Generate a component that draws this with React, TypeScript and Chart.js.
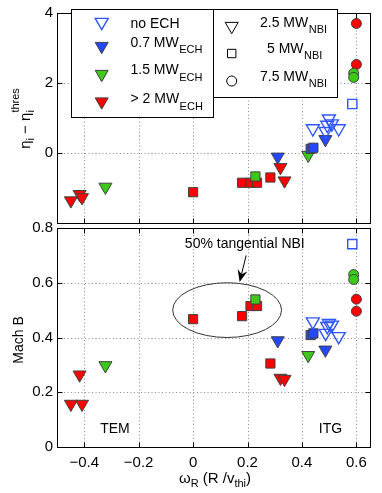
import React, { useEffect, useRef } from 'react';
import { Chart, registerables } from 'chart.js';

Chart.register(...registerables);

// ---------- data ----------
const xTickValues = [-0.4, -0.2, 0, 0.2, 0.4, 0.6];
const etaTickValues = [0, 2, 4];
const machTickValues = [0, 0.2, 0.4, 0.6, 0.8];

// no ECH, 2.5 MW NBI (open triangles)
const noEch25Omega = [0.44, 0.487, 0.493, 0.499, 0.51, 0.535];
const noEch25Eta = [0.7, 0.62, 0.8, 0.98, 0.84, 0.7];
const noEch25Mach = [0.458, 0.416, 0.441, 0.452, 0.446, 0.404];
// no ECH, 5 MW NBI (open square)
const noEch5Omega = [0.585];
const noEch5Eta = [1.4];
const noEch5Mach = [0.741];
// 0.7 MW ECH, 2.5 MW NBI
const ech07n25Omega = [0.311, 0.486];
const ech07n25Eta = [-0.11, 0.39];
const ech07n25Mach = [0.389, 0.355];
// 0.7 MW ECH, 5 MW NBI
const ech07n5Omega = [0.432, 0.442];
const ech07n5Eta = [0.12, 0.15];
const ech07n5Mach = [0.409, 0.415];
// 1.5 MW ECH, 2.5 MW NBI
const ech15n25Omega = [-0.322, 0.423];
const ech15n25Eta = [-0.97, -0.06];
const ech15n25Mach = [0.298, 0.335];
// 1.5 MW ECH, 5 MW NBI
const ech15n5Omega = [0.229];
const ech15n5Eta = [-0.67];
const ech15n5Mach = [0.539];
// 1.5 MW ECH, 7.5 MW NBI
const ech15n75Omega = [0.59, 0.59];
const ech15n75Eta = [2.28, 2.16];
const ech15n75Mach = [0.63, 0.612];
// >2 MW ECH, 2.5 MW NBI
const ech2n25Omega = [-0.449, -0.417, -0.408, 0.321, 0.336];
const ech2n25Eta = [-1.36, -1.18, -1.27, -0.41, -0.79];
const ech2n25Mach = [0.157, 0.264, 0.157, 0.252, 0.248];
// >2 MW ECH, 5 MW NBI
const ech2n5Omega = [0, 0.18, 0.211, 0.235, 0.284];
const ech2n5Eta = [-1.12, -0.85, -0.85, -0.85, -0.7];
const ech2n5Mach = [0.467, 0.478, 0.515, 0.515, 0.305];
// >2 MW ECH, 7.5 MW NBI
const ech2n75Omega = [0.6, 0.6];
const ech2n75Eta = [3.7, 2.53];
const ech2n75Mach = [0.54, 0.496];

const echLegendLabels = [
  { main: 'no ECH', sub: '' },
  { main: '0.7 MW', sub: 'ECH' },
  { main: '1.5 MW', sub: 'ECH' },
  { main: '> 2 MW', sub: 'ECH' },
];
const nbiLegendLabels = [
  { main: '2.5 MW', sub: 'NBI' },
  { main: '5 MW', sub: 'NBI' },
  { main: '7.5 MW', sub: 'NBI' },
];

// ---------- styles ----------
const FONT = '"Liberation Sans", Arial, Helvetica, sans-serif';
const BLUE = '#2448ff';
const OPEN_BLUE = '#2f55ff';
const GREEN = '#3ec81a';
const RED = '#ff0000';
const EDGE = '#404040';
const NONE = 'rgba(0,0,0,0)';

type Shape = 'tri' | 'sq' | 'circ';
type Ser = { omega: number[]; eta: number[]; mach: number[]; shape: Shape; face: string; edge: string };

const seriesList: Ser[] = [
  { omega: noEch25Omega, eta: noEch25Eta, mach: noEch25Mach, shape: 'tri', face: NONE, edge: OPEN_BLUE },
  { omega: noEch5Omega, eta: noEch5Eta, mach: noEch5Mach, shape: 'sq', face: NONE, edge: OPEN_BLUE },
  { omega: ech07n25Omega, eta: ech07n25Eta, mach: ech07n25Mach, shape: 'tri', face: BLUE, edge: EDGE },
  { omega: ech07n5Omega, eta: ech07n5Eta, mach: ech07n5Mach, shape: 'sq', face: BLUE, edge: EDGE },
  { omega: ech15n25Omega, eta: ech15n25Eta, mach: ech15n25Mach, shape: 'tri', face: GREEN, edge: EDGE },
  { omega: ech15n5Omega, eta: ech15n5Eta, mach: ech15n5Mach, shape: 'sq', face: GREEN, edge: EDGE },
  { omega: ech15n75Omega, eta: ech15n75Eta, mach: ech15n75Mach, shape: 'circ', face: GREEN, edge: EDGE },
  { omega: ech2n25Omega, eta: ech2n25Eta, mach: ech2n25Mach, shape: 'tri', face: RED, edge: EDGE },
  { omega: ech2n5Omega, eta: ech2n5Eta, mach: ech2n5Mach, shape: 'sq', face: RED, edge: EDGE },
  { omega: ech2n75Omega, eta: ech2n75Eta, mach: ech2n75Mach, shape: 'circ', face: RED, edge: EDGE },
];

function toDatasets(key: 'eta' | 'mach') {
  return seriesList.map((s) => ({
    data: s.omega.map((x, i) => ({ x, y: s[key][i] })),
    pointStyle: s.shape === 'tri' ? 'triangle' : s.shape === 'sq' ? 'rect' : 'circle',
    pointRotation: s.shape === 'tri' ? 180 : 0,
    pointRadius: s.shape === 'tri' ? 7.5 : s.shape === 'sq' ? 6.5 : 5,
    pointBackgroundColor: s.face,
    pointBorderColor: s.edge,
    pointBorderWidth: s.face === NONE ? 1.4 : 1,
    showLine: false,
  }));
}

const fmt = (v: number) => {
  const s = String(Number(v.toFixed(2)));
  return v < 0 ? '\u2212' + s.slice(1) : s;
};

// ---------- drawing helpers ----------
type Seg = { t: string; size: number; dy: number };

function drawRich(ctx: CanvasRenderingContext2D, segs: Seg[][], cx: number, base: number) {
  const widths = segs.map((g) =>
    Math.max(
      ...g.map((s) => {
        ctx.font = `${s.size}px ${FONT}`;
        return ctx.measureText(s.t).width;
      })
    )
  );
  const total = widths.reduce((a, b) => a + b, 0);
  let x = cx - total / 2;
  ctx.textAlign = 'left';
  ctx.textBaseline = 'alphabetic';
  segs.forEach((g, i) => {
    g.forEach((s) => {
      ctx.font = `${s.size}px ${FONT}`;
      ctx.fillText(s.t, x, base + s.dy);
    });
    x += widths[i];
  });
}

function triPath(ctx: CanvasRenderingContext2D, cx: number, cyBox: number, r: number) {
  const cy = cyBox - r / 4;
  ctx.beginPath();
  ctx.moveTo(cx - r * 0.866, cy - r / 2);
  ctx.lineTo(cx + r * 0.866, cy - r / 2);
  ctx.lineTo(cx, cy + r);
  ctx.closePath();
}

function legendMarker(ctx: CanvasRenderingContext2D, shape: Shape, cx: number, cy: number, face: string, edge: string, lw: number) {
  ctx.save();
  ctx.lineWidth = lw;
  ctx.strokeStyle = edge;
  ctx.fillStyle = face;
  if (shape === 'tri') triPath(ctx, cx, cy, 7.5);
  else if (shape === 'sq') {
    ctx.beginPath();
    ctx.rect(cx - 4.2, cy - 4.2, 8.4, 8.4);
  } else {
    ctx.beginPath();
    ctx.arc(cx, cy, 5, 0, Math.PI * 2);
  }
  if (face !== NONE) ctx.fill();
  ctx.stroke();
  ctx.restore();
}

const framePlugin = {
  id: 'frame',
  beforeDatasetsDraw(chart: any) {
    const { ctx, chartArea: a, scales } = chart;
    ctx.save();
    ctx.strokeStyle = '#8c8c8c';
    ctx.lineWidth = 1;
    ctx.setLineDash([1, 2.5]);
    ctx.beginPath();
    scales.x.ticks.forEach((t: any) => {
      const px = Math.round(scales.x.getPixelForValue(t.value)) + 0.5;
      if (px <= a.left + 1 || px >= a.right - 1) return;
      ctx.moveTo(px, a.top);
      ctx.lineTo(px, a.bottom);
    });
    scales.y.ticks.forEach((t: any) => {
      const py = Math.round(scales.y.getPixelForValue(t.value)) + 0.5;
      if (py <= a.top + 1 || py >= a.bottom - 1) return;
      ctx.moveTo(a.left, py);
      ctx.lineTo(a.right, py);
    });
    ctx.stroke();
    ctx.restore();
  },
  afterDraw(chart: any) {
    const { ctx, chartArea: a, scales } = chart;
    ctx.save();
    ctx.strokeStyle = '#000';
    ctx.lineWidth = 1;
    const L = Math.round(a.left) + 0.5;
    const R = Math.round(a.right) + 0.5;
    const T = Math.round(a.top) + 0.5;
    const B = Math.round(a.bottom) + 0.5;
    ctx.strokeRect(L, T, R - L, B - T);
    ctx.beginPath();
    scales.x.ticks.forEach((t: any) => {
      const px = Math.round(scales.x.getPixelForValue(t.value)) + 0.5;
      ctx.moveTo(px, B);
      ctx.lineTo(px, B - 5);
      ctx.moveTo(px, T);
      ctx.lineTo(px, T + 5);
    });
    scales.y.ticks.forEach((t: any) => {
      const py = Math.round(scales.y.getPixelForValue(t.value)) + 0.5;
      ctx.moveTo(L, py);
      ctx.lineTo(L + 5, py);
      ctx.moveTo(R, py);
      ctx.lineTo(R - 5, py);
    });
    ctx.stroke();
    ctx.restore();
  },
};

const topDecorPlugin = {
  id: 'topDecor',
  afterDraw(chart: any) {
    const ctx: CanvasRenderingContext2D = chart.ctx;
    ctx.save();
    ctx.fillStyle = '#000';
    ctx.translate(30, 118.5);
    ctx.rotate(-Math.PI / 2);
    drawRich(
      ctx,
      [
        [{ t: '\u03b7', size: 15, dy: 0 }],
        [{ t: 'i', size: 11, dy: 4 }],
        [{ t: ' \u2212 ', size: 15, dy: 0 }],
        [{ t: '\u03b7', size: 15, dy: 0 }],
        [
          { t: 'i', size: 11, dy: 4 },
          { t: 'thres', size: 11, dy: -11 },
        ],
      ],
      0,
      0
    );
    ctx.restore();

    ctx.save();
    ctx.fillStyle = '#fff';
    ctx.strokeStyle = '#000';
    ctx.lineWidth = 1;
    ctx.fillRect(71.5, 9.5, 142, 108);
    ctx.strokeRect(71.5, 9.5, 142, 108);
    ctx.fillRect(213.5, 9.5, 124, 88);
    ctx.strokeRect(213.5, 9.5, 124, 88);
    const echFaces = [NONE, BLUE, GREEN, RED];
    const echEdges = [OPEN_BLUE, EDGE, EDGE, EDGE];
    const echMarkY = [24, 48, 76, 103.5];
    const echBase = [28.3, 46.7, 74.3, 103.3];
    echLegendLabels.forEach((lab, i) => {
      legendMarker(ctx, 'tri', 101.7, echMarkY[i], echFaces[i], echEdges[i], echFaces[i] === NONE ? 1.4 : 1);
      ctx.fillStyle = '#000';
      ctx.textAlign = 'left';
      ctx.textBaseline = 'alphabetic';
      ctx.font = `14px ${FONT}`;
      ctx.fillText(lab.main, 130.5, echBase[i]);
      if (lab.sub) {
        const w = ctx.measureText(lab.main).width;
        ctx.font = `11px ${FONT}`;
        ctx.fillText(lab.sub, 130.5 + w + 0.5, echBase[i] + 6.5);
      }
    });
    const nbiShapes: Shape[] = ['tri', 'sq', 'circ'];
    const nbiMarkY = [28, 53.5, 81];
    const nbiBase = [26.7, 53, 81];
    const nbiX = [260, 267, 260];
    nbiLegendLabels.forEach((lab, i) => {
      legendMarker(ctx, nbiShapes[i], 231.7, nbiMarkY[i], NONE, '#000', 1);
      ctx.fillStyle = '#000';
      ctx.font = `14px ${FONT}`;
      ctx.fillText(lab.main, nbiX[i], nbiBase[i]);
      const w = ctx.measureText(lab.main).width;
      ctx.font = `11px ${FONT}`;
      ctx.fillText(lab.sub, nbiX[i] + w + 0.5, nbiBase[i] + 5.8);
    });
    ctx.restore();
  },
};

const bottomDecorPlugin = {
  id: 'bottomDecor',
  afterDraw(chart: any) {
    const ctx: CanvasRenderingContext2D = chart.ctx;
    const xs = chart.scales.x;
    const ys = chart.scales.y;
    const X = (v: number) => xs.getPixelForValue(v);
    const Y = (v: number) => ys.getPixelForValue(v);
    ctx.save();
    ctx.fillStyle = '#000';
    ctx.strokeStyle = '#333';
    ctx.lineWidth = 1;
    const cx = X(0.125);
    const cy = Y(0.5);
    ctx.beginPath();
    ctx.ellipse(cx, cy, Math.abs(X(0.325) - cx), Math.abs(Y(0.6) - cy), 0, 0, Math.PI * 2);
    ctx.stroke();
    const tx = X(0.195), ty = Y(0.7);
    const hx = X(0.171), hy = Y(0.603);
    const ang = Math.atan2(hy - ty, hx - tx);
    ctx.strokeStyle = '#000';
    ctx.beginPath();
    ctx.moveTo(tx, ty);
    ctx.lineTo(hx - Math.cos(ang) * 8, hy - Math.sin(ang) * 8);
    ctx.stroke();
    ctx.beginPath();
    ctx.moveTo(hx, hy);
    ctx.lineTo(hx - Math.cos(ang) * 12 + Math.sin(ang) * 5, hy - Math.sin(ang) * 12 - Math.cos(ang) * 5);
    ctx.lineTo(hx - Math.cos(ang) * 8, hy - Math.sin(ang) * 8);
    ctx.lineTo(hx - Math.cos(ang) * 12 - Math.sin(ang) * 5, hy - Math.sin(ang) * 12 + Math.cos(ang) * 5);
    ctx.closePath();
    ctx.fill();
    ctx.font = `14px ${FONT}`;
    ctx.textAlign = 'center';
    ctx.textBaseline = 'middle';
    ctx.fillText('50% tangential NBI', X(0.19), Y(0.742));
    ctx.fillText('TEM', X(-0.287), Y(0.066));
    ctx.fillText('ITG', X(0.505), Y(0.066));
    drawRich(
      ctx,
      [
        [{ t: '\u03c9', size: 15, dy: 0 }],
        [{ t: 'R', size: 11, dy: 4 }],
        [{ t: ' (R /v', size: 15, dy: 0 }],
        [{ t: 'thi', size: 11, dy: 4 }],
        [{ t: ')', size: 15, dy: 0 }],
      ],
      215,
      268
    );
    ctx.translate(23, 125);
    ctx.rotate(-Math.PI / 2);
    ctx.font = `14px ${FONT}`;
    ctx.textAlign = 'center';
    ctx.textBaseline = 'alphabetic';
    ctx.fillText('Mach B', 0, 0);
    ctx.restore();
  },
};

const tickFont = { family: FONT, size: 15 };

function makeOptions(yMin: number, yMax: number, yTicks: number[], isTop: boolean): any {
  return {
    animation: false,
    responsive: false,
    maintainAspectRatio: false,
    events: [],
    layout: { padding: isTop ? { left: 0, right: 12, top: 9, bottom: 8 } : { left: 0, right: 12, top: 13, bottom: 0 } },
    plugins: { legend: { display: false }, tooltip: { enabled: false } },
    scales: {
      x: {
        type: 'linear',
        min: -0.5,
        max: 0.65,
        afterBuildTicks: (s: any) => {
          s.ticks = xTickValues.map((v) => ({ value: v }));
        },
        afterFit: (s: any) => {
          s.height = isTop ? 0 : 46;
        },
        grid: { display: false, drawTicks: false },
        border: { display: false },
        ticks: {
          display: !isTop,
          autoSkip: false,
          maxRotation: 0,
          padding: 7,
          color: '#000',
          font: tickFont,
          callback: (v: any) => fmt(Number(v)),
        },
      },
      y: {
        type: 'linear',
        min: yMin,
        max: yMax,
        afterBuildTicks: (s: any) => {
          s.ticks = yTicks.map((v) => ({ value: v }));
        },
        afterFit: (s: any) => {
          s.width = 57;
        },
        grid: { display: false, drawTicks: false },
        border: { display: false },
        ticks: {
          autoSkip: false,
          padding: 4,
          color: '#000',
          font: tickFont,
          callback: (v: any) => fmt(Number(v)),
        },
      },
    },
  };
}

export default function App() {
  const topRef = useRef<HTMLCanvasElement>(null);
  const botRef = useRef<HTMLCanvasElement>(null);

  useEffect(() => {
    const top = new Chart(topRef.current as HTMLCanvasElement, {
      type: 'scatter',
      data: { datasets: toDatasets('eta') as any },
      options: makeOptions(-2, 4, etaTickValues, true),
      plugins: [framePlugin, topDecorPlugin],
    });
    const bot = new Chart(botRef.current as HTMLCanvasElement, {
      type: 'scatter',
      data: { datasets: toDatasets('mach') as any },
      options: makeOptions(0, 0.8, machTickValues, false),
      plugins: [framePlugin, bottomDecorPlugin],
    });
    return () => {
      top.destroy();
      bot.destroy();
    };
  }, []);

  return (
    <div style={{ position: 'fixed', left: 0, top: 0, width: 382, height: 493, background: '#fff' }}>
      <canvas
        ref={topRef}
        width={382}
        height={236}
        style={{ position: 'absolute', left: 0, top: 0, width: 382, height: 236 }}
      />
      <canvas
        ref={botRef}
        width={382}
        height={278}
        style={{ position: 'absolute', left: 0, top: 215, width: 382, height: 278 }}
      />
    </div>
  );
}
